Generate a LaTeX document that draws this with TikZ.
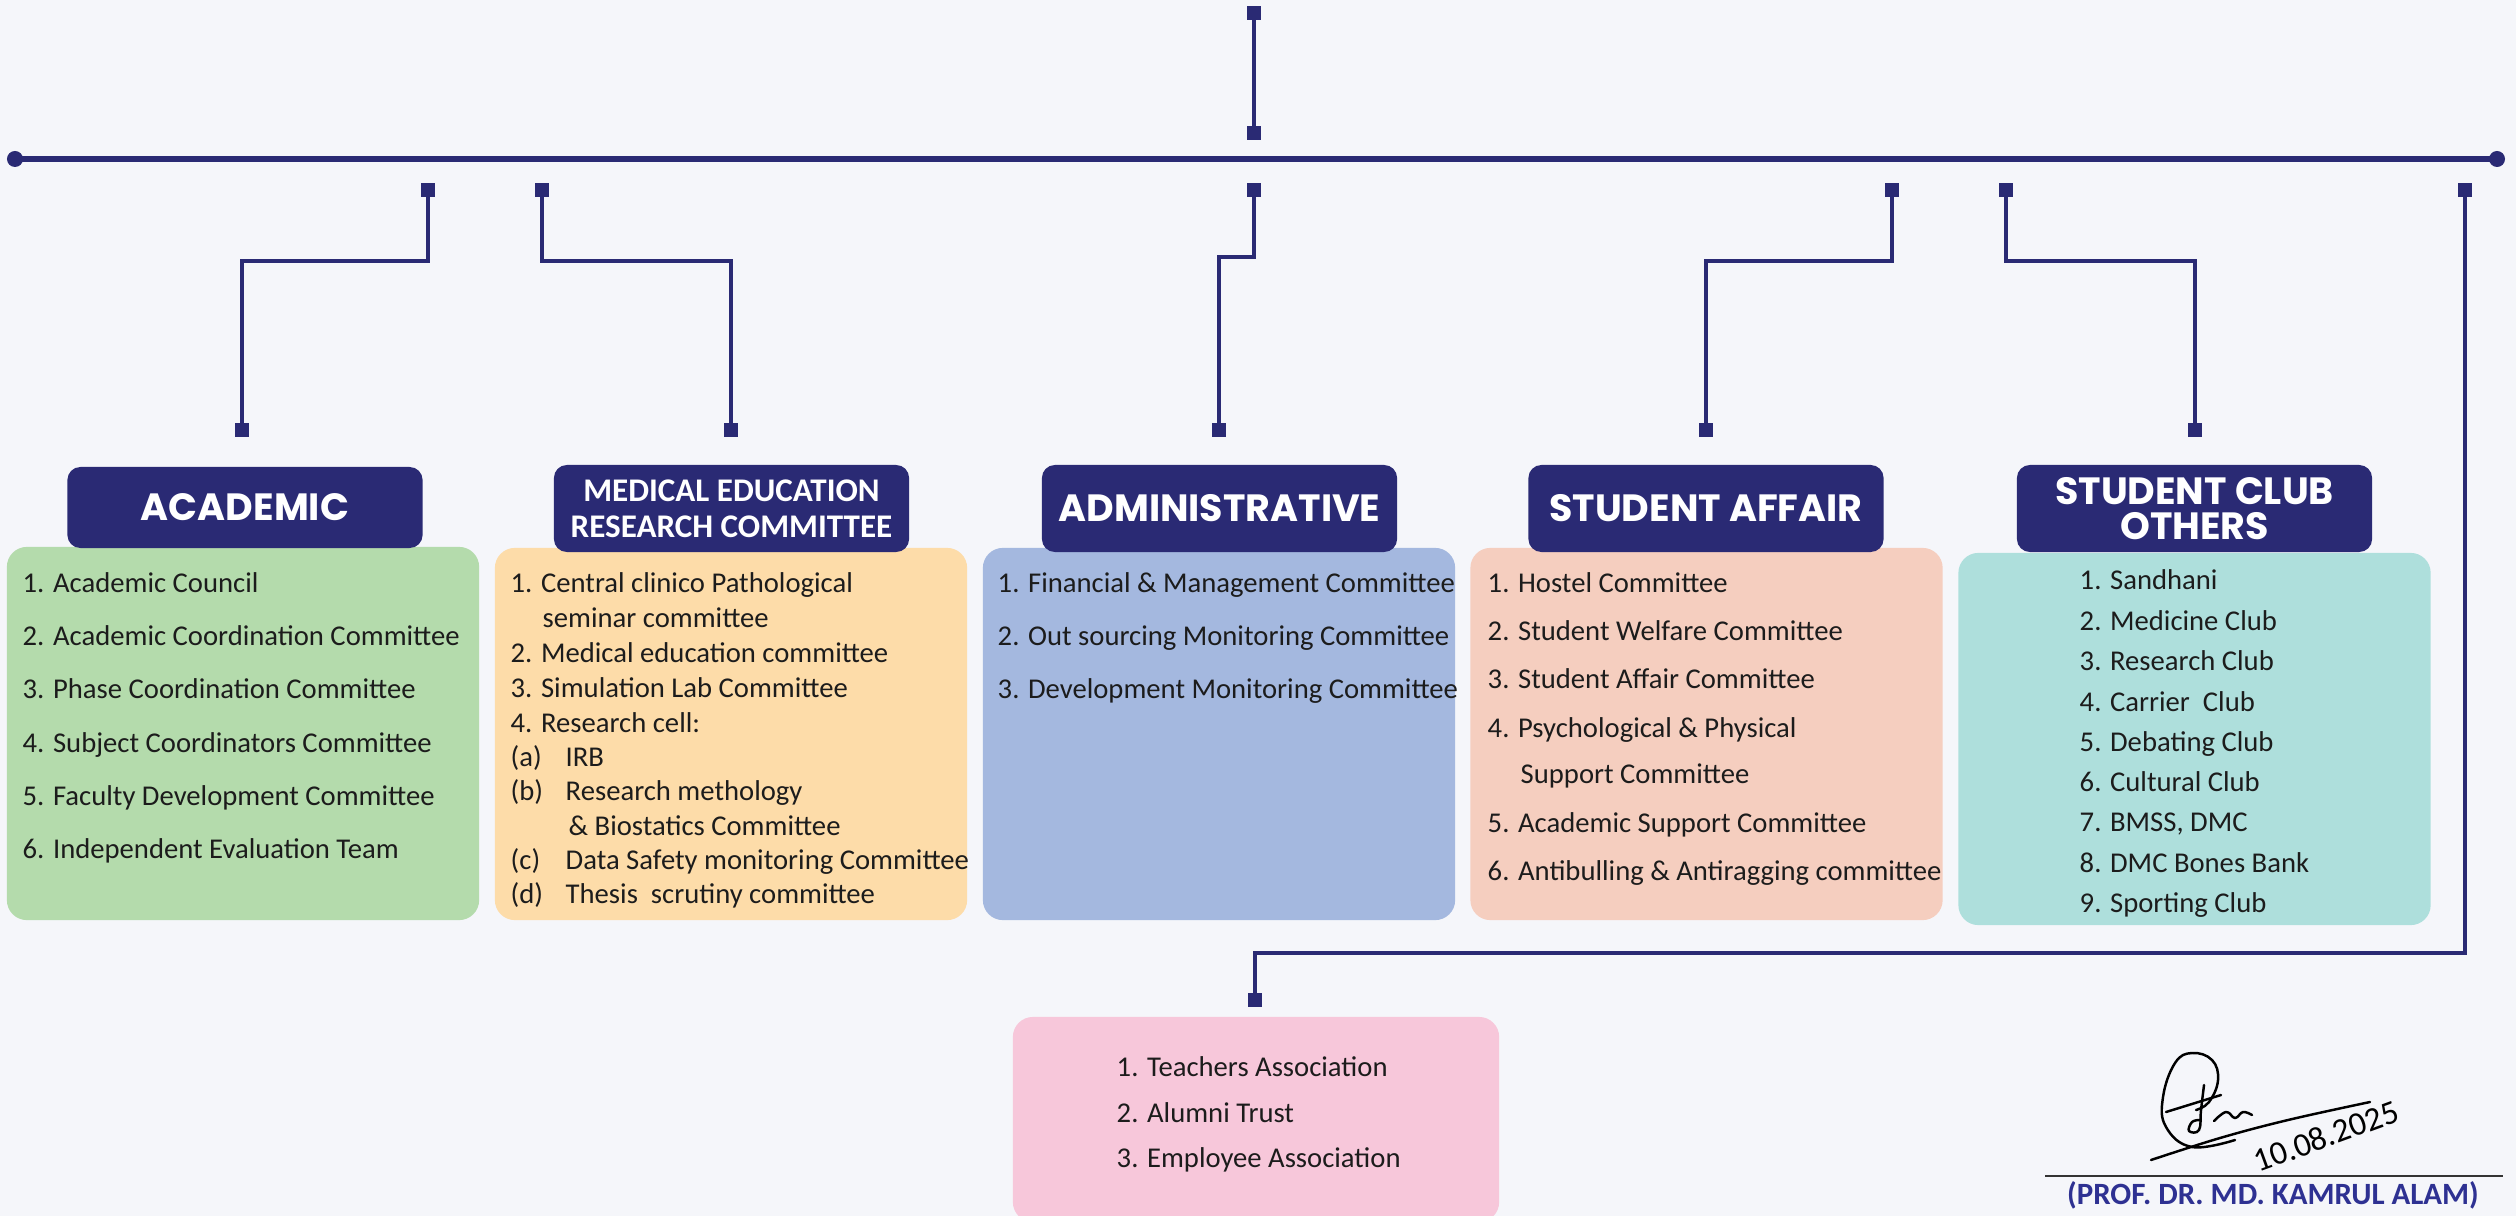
\documentclass[tikz,border=0pt]{standalone}
\usepackage{fontspec}
\setmainfont{Carlito}
\newfontfamily\headfont{Poppins}
\definecolor{bg}{HTML}{F5F6FA}
\definecolor{navy}{HTML}{2A2A74}
\definecolor{txt}{HTML}{1C1C1C}
\definecolor{cgreen}{HTML}{B4DBAC}
\definecolor{corange}{HTML}{FDDCA9}
\definecolor{cblue}{HTML}{A4B8DF}
\definecolor{csalmon}{HTML}{F5CEBF}
\definecolor{cteal}{HTML}{AEDFDC}
\definecolor{cpink}{HTML}{F7C7DA}
\definecolor{signame}{HTML}{2E3192}
\tikzset{
  conn/.style={draw=navy, line width=1.15pt},
  mainline/.style={draw=navy, line width=1.45pt},
  sq/.style={fill=navy, minimum size=0.14cm, inner sep=0pt, outer sep=0pt},
  enddot/.style={circle, fill=navy, minimum size=0.16cm, inner sep=0pt},
  panel/.style={rounded corners=0.2cm, inner sep=0pt, minimum width=4.72cm},
  head/.style={fill=navy, rounded corners=0.13cm, text=white, inner sep=0pt,
    minimum width=3.55cm, minimum height=0.87cm, align=center},
  headA/.style={head, font=\headfont\bfseries\fontsize{10.8}{10}\selectfont},
  headB/.style={head, font=\bfseries\fontsize{9.4}{10.2}\selectfont},
  headC/.style={head, font=\headfont\bfseries\fontsize{10.8}{10}\selectfont},
  item/.style={anchor=base west, inner sep=0pt, text=txt, font=\fontsize{8.15}{10}\selectfont},
  sig/.style={draw=black, line width=0.7pt, line cap=round, line join=round},
}
\begin{document}
\begin{tikzpicture}[x=0.01cm, y=-0.01cm]
\useasboundingbox[fill=bg] (0,0) rectangle (2516,1216);

% ---------- panels ----------
\node[panel, fill=cgreen, minimum height=3.73cm] (acadbox) at (243,733.5) {};
\node[panel, fill=corange, minimum height=3.72cm] (mercbox) at (731,734) {};
\node[panel, fill=cblue, minimum height=3.72cm] (admbox) at (1219,734) {};
\node[panel, fill=csalmon, minimum height=3.72cm] (sabox) at (1706.5,734) {};
\node[panel, fill=cteal, minimum height=3.72cm] (scobox) at (2194.5,739) {};
\begin{scope}
\clip (0,0) rectangle (2516,1216);
\node[panel, fill=cpink, minimum width=4.86cm, minimum height=2.05cm] (pinkbox) at (1256,1119.5) {};
\end{scope}

% ---------- headers ----------
\node[headA, minimum height=0.81cm] (acadhead) at (245,507.5) {ACADEMIC};
\node[headB] (merchead) at (731.5,508.5) {MEDICAL EDUCATION\\RESEARCH COMMITTEE};
\node[headA] (admhead) at (1219.5,508.5) {ADMINISTRATIVE};
\node[headA] (sahead) at (1706,508.5) {STUDENT AFFAIR};
\node[headC] (scohead) at (2194.5,508.5) {STUDENT CLUB\\OTHERS};

% ---------- main bar ----------
\node[enddot] (ldot) at (15,159) {};
\node[enddot] (rdot) at (2497,159) {};
\draw[mainline] (ldot.center) -- (rdot.center);

% ---------- squares ----------
\node[sq] (topA) at (1254,13.5) {};
\node[sq] (topB) at (1254,133.5) {};
\node[sq] (t1) at (428,190) {};
\node[sq] (t2) at (542,190) {};
\node[sq] (t3) at (1254,190) {};
\node[sq] (t4) at (1892,190) {};
\node[sq] (t5) at (2006,190) {};
\node[sq] (t6) at (2465,190) {};
\node[sq] (b1) at (242,430) {};
\node[sq] (b2) at (731,430) {};
\node[sq] (b3) at (1219,430) {};
\node[sq] (b4) at (1706,430) {};
\node[sq] (b5) at (2195,430) {};
\node[sq] (b6) at (1255,1000) {};
\coordinate (rturn) at (2465,953);

% ---------- connectors ----------
\draw[conn] (topA.center) -- (topB.center);
\draw[conn] (t1.center) -- ++(0,71) -| (b1.center);
\draw[conn] (t2.center) -- ++(0,71) -| (b2.center);
\draw[conn] (t3.center) -- ++(0,67) -| (b3.center);
\draw[conn] (t4.center) -- ++(0,71) -| (b4.center);
\draw[conn] (t5.center) -- ++(0,71) -| (b5.center);
\draw[conn] (t6.center) -- (rturn) -| (b6.center);

% ---------- ACADEMIC items ----------
\node[item] (ac1) at (22,592) {1. Academic Council};
\node[item] (ac2) at (22,645) {2. Academic Coordination Committee};
\node[item] (ac3) at (22,698) {3. Phase Coordination Committee};
\node[item] (ac4) at (22,752) {4. Subject Coordinators Committee};
\node[item] (ac5) at (22,805) {5. Faculty Development Committee};
\node[item] (ac6) at (22,858) {6. Independent Evaluation Team};

% ---------- MERC items ----------
\node[item] (me1) at (510,592) {1. Central clinico Pathological};
\node[item] (me1b) at (542,627) {seminar committee};
\node[item] (me2) at (510,662) {2. Medical education committee};
\node[item] (me3) at (510,697) {3. Simulation Lab Committee};
\node[item] (me4) at (510,732) {4. Research cell:};
\node[item] (mea) at (510,766) {(a)};
\node[item] (meat) at (565,766) {IRB};
\node[item] (meb) at (510,800) {(b)};
\node[item] (mebt) at (565,800) {Research methology};
\node[item] (mebu) at (568,835) {\& Biostatics Committee};
\node[item] (mec) at (510,869) {(c)};
\node[item] (mect) at (565,869) {Data Safety monitoring Committee};
\node[item] (med) at (510,903) {(d)};
\node[item] (medt) at (565,903) {Thesis\ \ scrutiny committee};

% ---------- ADMIN items ----------
\node[item] (ad1) at (997,592) {1. Financial \& Management Committee};
\node[item] (ad2) at (997,645) {2. Out sourcing Monitoring Committee};
\node[item] (ad3) at (997,698) {3. Development Monitoring Committee};

% ---------- STUDENT AFFAIR items ----------
\node[item] (sa1) at (1487,592) {1. Hostel Committee};
\node[item] (sa2) at (1487,640) {2. Student Welfare Committee};
\node[item] (sa3) at (1487,688) {3. Student Affair Committee};
\node[item] (sa4) at (1487,737) {4. Psychological \& Physical};
\node[item] (sa4b) at (1520,783) {Support Committee};
\node[item] (sa5) at (1487,832) {5. Academic Support Committee};
\node[item] (sa6) at (1487,880) {6. Antibulling \& Antiragging committee};

% ---------- STUDENT CLUB items ----------
\node[item] (sc1) at (2079,590) {1. Sandhani};
\node[item] (sc2) at (2079,630) {2. Medicine Club};
\node[item] (sc3) at (2079,670.5) {3. Research Club};
\node[item] (sc4) at (2079,711) {4. Carrier\ \ Club};
\node[item] (sc5) at (2079,751) {5. Debating Club};
\node[item] (sc6) at (2079,791) {6. Cultural Club};
\node[item] (sc7) at (2079,831.5) {7. BMSS, DMC};
\node[item] (sc8) at (2079,872) {8. DMC Bones Bank};
\node[item] (sc9) at (2079,912) {9. Sporting Club};

% ---------- bottom items ----------
\node[item] (pk1) at (1116,1076) {1. Teachers Association};
\node[item] (pk2) at (1116,1122) {2. Alumni Trust};
\node[item] (pk3) at (1116,1167) {3. Employee Association};

% ---------- signature ----------
\draw[sig] plot[smooth, tension=0.7] coordinates {(2235,1140) (2192,1147) (2166,1127) (2163,1097) (2175,1063) (2192,1053) (2212,1060) (2218,1080) (2209,1102) (2196,1110)};
\draw[sig] plot[smooth, tension=0.6] coordinates {(2151,1160) (2220,1138) (2288,1120) (2370,1102)};
\draw[sig] (2166,1112) -- (2221,1095);
\draw[sig] plot[smooth, tension=0.7] coordinates {(2204,1085) (2201,1110) (2199,1130) (2189,1131) (2192,1122) (2200,1120)};
\draw[sig] plot[smooth, tension=0.7] coordinates {(2214,1121) (2226,1112) (2235,1118) (2243,1112) (2252,1115)};
\node[rotate=20, inner sep=0pt, font=\fontsize{9.5}{10}\selectfont, text=black] (sigdate) at (2326,1136) {10.08.2025};
\coordinate (sl1) at (2045,1176);
\coordinate (sl2) at (2503,1176);
\draw[black!80, line width=0.6pt] (sl1) -- (sl2);
\node[inner sep=0pt, text=signame, font=\bfseries\fontsize{8.8}{10}\selectfont] (signame) at (2273,1195) {(PROF. DR. MD. KAMRUL ALAM)};
\end{tikzpicture}
\end{document}
